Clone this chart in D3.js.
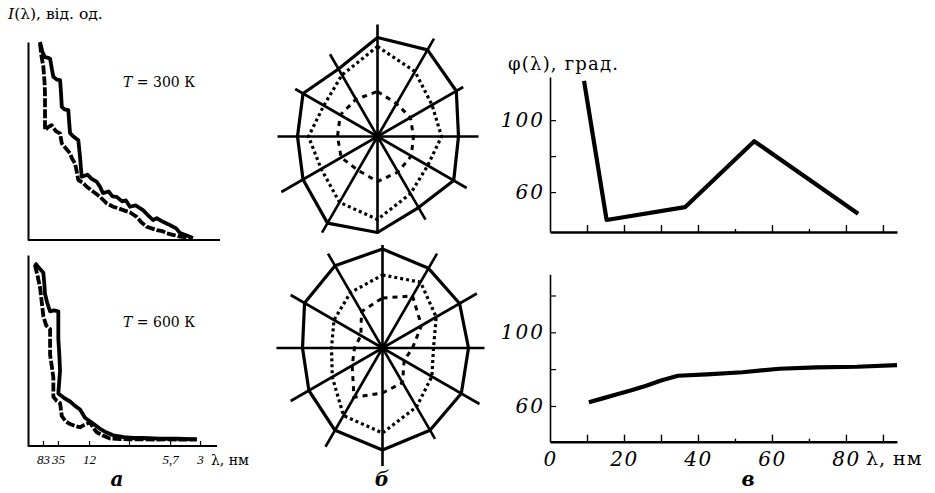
<!DOCTYPE html>
<html>
<head>
<meta charset="utf-8">
<script src="https://cdn.jsdelivr.net/npm/d3@7"></script>
<style>
  body { margin: 0; background: #fff; }
  svg { display: block; }
  text { font-family: "DejaVu Serif", "Liberation Serif", serif; fill: #000; }
</style>
</head>
<body>
<svg id="fig" width="935" height="493"></svg>
<script>
// ---------- panel а: spectral intensity I(λ) ----------
// horizontal position is a relative spectral coordinate (0..100), labelled in nm
const specTicks = [7.8, 15.6, 31.8, 52.6, 74, 89.6];
const specTickLabels = ["83", "35", "12", "", "5,7", "3"];

const spec300A = [[6.25,100],[7.5,95],[8.85,92.4],[10.5,92],[11.5,91.6],[12.5,86],[13.2,82.4],[15,81],[16.7,80.7],[17.2,74],[17.6,67.2],[19,66],[21,65.6],[21.4,60],[21.9,54],[24,52],[26.2,50.4],[27.1,42],[27.5,37],[28,31.9],[31,33],[33,31],[35.8,29.4],[37.5,26.9],[39,23.7],[42,24.5],[44,22],[46.2,21.8],[49,19.5],[51,20],[53.1,16.8],[56,17.5],[59.9,15.1],[62,13],[65.1,10.1],[67,11],[70.3,9.2],[73,8],[75.5,6.7],[77,6],[79.2,3.5],[82,2.5],[85.9,1]];
const spec300B = [[6.25,99.2],[7,93],[8,87.4],[8.6,80],[8.85,74],[8.85,65],[8.85,55.5],[10.5,57],[12.3,58],[14.5,55],[16.7,53.8],[17.6,48.8],[20,46],[21.9,43.7],[23,41],[24.5,38.7],[25.5,34],[26.2,30.3],[28.5,29],[30.6,26.9],[34,24.4],[36,23],[37.5,21.8],[41,18.5],[44.4,16.8],[47,16],[49.6,15.1],[53,14],[56.6,11.7],[59,9],[61.8,6.7],[64,6],[67,5],[70,4.5],[72.2,3.4],[76,2.5],[79.2,1.7],[85.9,0.9]];

const spec600A = [[3.6,95.8],[6,93],[8.0,90.7],[8.5,85],[8.85,79.7],[10,75],[11.5,70.5],[13.5,71],[15.8,70.5],[15.8,63],[15.8,56.1],[16.3,48],[16.7,39.3],[16.2,33],[15.8,27.5],[19,25],[21.9,23.3],[24.5,21],[27.1,19.1],[29.7,14.8],[31.5,13.5],[33.2,12.3],[37.5,9.0],[41,7],[44.4,5.6],[50,4.6],[54.8,4.2],[60,4.2],[68.8,3.9],[78,3.8],[87.9,3.5]];
const spec600B = [[3.6,94.9],[5,89],[6.25,83.1],[7.2,75],[8.0,67.9],[9.5,63],[11.5,61.2],[11.5,54],[11.5,47.7],[12.5,41],[13.2,35.9],[13.2,30],[13.2,25.8],[15,23.5],[16.7,22.4],[17.6,15.7],[19.5,13],[21.9,11.5],[24.5,10.5],[27.1,9.8],[30,11.5],[32.3,12.3],[34,9.5],[35.8,7.2],[39,5.5],[42.7,3.9],[48,3.6],[54.8,3.5],[66,3.4],[72.2,3.5],[80,3.3],[87.9,3.5]];

// ---------- panel б: polar diagrams (12 directions, 30° apart, clockwise from top) ----------
const polarAngles = [0, 30, 60, 90, 120, 150, 180, 210, 240, 270, 300, 330];

const spokes300 = [1.12, 1.13, 0.99, 1.01, 1.03, 0.96, 0.97, 1.11, 1.11, 1.00, 0.95, 0.95];
const solid300  = [0.99, 1.00, 0.91, 0.81, 0.88, 0.82, 0.96, 1.00, 0.86, 0.80, 0.86, 0.78];
const dotted300 = [0.90, 0.75, 0.63, 0.64, 0.58, 0.66, 0.83, 0.76, 0.65, 0.69, 0.62, 0.71];
const dashed300 = [0.45, 0.38, 0.38, 0.36, 0.39, 0.41, 0.45, 0.39, 0.42, 0.40, 0.43, 0.43];

const spokes600 = [1.03, 1.09, 1.09, 1.02, 1.12, 1.05, 1.18, 1.14, 1.06, 1.06, 1.06, 1.09];
const solid600  = [0.99, 0.92, 0.89, 0.86, 0.91, 0.95, 1.02, 0.95, 0.85, 0.80, 0.90, 0.95];
const dotted600 = [0.73, 0.76, 0.62, 0.51, 0.57, 0.68, 0.85, 0.78, 0.58, 0.51, 0.56, 0.64];
const dashed600 = [0.50, 0.60, 0.45, 0.30, 0.25, 0.40, 0.45, 0.57, 0.35, 0.28, 0.25, 0.42];

// ---------- panel в: phase φ(λ) ----------
const lam300 = [9.2, 15.3, 36.5, 55.2, 83.3];
const phi300 = [121.8, 44.5, 51.6, 88.3, 47.9];
const lam600 = [10.5, 14, 18.4, 22, 26, 30, 34.6, 42.4, 52, 62, 72, 83, 93.8];
const phi600 = [62, 64, 66.5, 68.5, 71, 73.8, 76.4, 77.2, 78.3, 80.2, 81, 81.3, 82.2];
const phiTicks = [60, 80, 100, 120];
const phiLabels = [60, 100];
const lamTicks = [10, 20, 30, 40, 50, 60, 70, 80, 90];
const lamMinorTicks = [50, 70];
const lamLabels = [0, 20, 40, 60, 80];

const svg = d3.select("#fig");

// ===== panel а =====
const xSpec = d3.scaleLinear().domain([0, 100]).range([28, 220]);
const ySpecTop = d3.scaleLinear().domain([0, 100]).range([240, 42]);
const ySpecBot = d3.scaleLinear().domain([0, 100]).range([446, 255]);

function spectrumPanel(yScale, curveA, curveB, xEnd, withTicks) {
  const g = svg.append("g");
  g.append("g").attr("transform", `translate(${xSpec(0)},0)`)
    .call(d3.axisLeft(yScale).tickValues([]).tickSizeOuter(0))
    .call(a => a.select(".domain").attr("stroke-width", 2));
  const ax = d3.axisBottom(xSpec).tickValues(withTicks ? specTicks : []).tickSizeOuter(0)
    .tickSizeInner(-5).tickPadding(9).tickFormat((d, i) => specTickLabels[i]);
  const gx = g.append("g").attr("transform", `translate(0,${yScale(0)})`).call(ax);
  gx.select(".domain").attr("d", `M28,0H${xEnd}`).attr("stroke-width", 2.2);
  gx.selectAll(".tick line").attr("stroke-width", 1.2);
  gx.selectAll(".tick text").style("font-size", "13px").style("font-style", "italic")
    .style("font-family", "Liberation Serif, serif");

  const line = d3.line().x(d => xSpec(d[0])).y(d => yScale(d[1])).curve(d3.curveLinear);
  g.append("path").attr("d", line(curveA)).attr("fill", "none").attr("stroke", "#000")
    .attr("stroke-width", 3.8).attr("stroke-linejoin", "round");
  g.append("path").attr("d", line(curveB)).attr("fill", "none").attr("stroke", "#000")
    .attr("stroke-width", 3.8).attr("stroke-dasharray", "9,2").attr("stroke-linejoin", "round");
  return g;
}
spectrumPanel(ySpecTop, spec300A, spec300B, 220, false);
spectrumPanel(ySpecBot, spec600A, spec600B, 217, true);

svg.append("text").attr("x", 8).attr("y", 19).style("font-size", "15.5px")
  .call(t => { t.append("tspan").style("font-style", "italic").text("I");
               t.append("tspan").text("(λ), від. од."); });
svg.append("text").attr("x", 123).attr("y", 87).style("font-size", "14px")
  .call(t => { t.append("tspan").style("font-style", "italic").text("T");
               t.append("tspan").text(" = 300 К"); });
svg.append("text").attr("x", 123).attr("y", 327).style("font-size", "14px")
  .call(t => { t.append("tspan").style("font-style", "italic").text("T");
               t.append("tspan").text(" = 600 К"); });
svg.append("text").attr("x", 211).attr("y", 465).style("font-size", "14px").text("λ, нм");

// ===== panel б =====
const rPolar = d3.scaleLinear().domain([0, 1]).range([0, 100]);
const toRad = d => d * Math.PI / 180;

function polarPanel(cx, cy, spokes, solid, dotted, dashed) {
  const g = svg.append("g").attr("transform", `translate(${cx},${cy})`);
  g.selectAll("line.spoke").data(polarAngles).join("line").attr("class", "spoke")
    .attr("x1", 0).attr("y1", 0)
    .attr("x2", (a, i) => rPolar(spokes[i]) * Math.sin(toRad(a)))
    .attr("y2", (a, i) => -rPolar(spokes[i]) * Math.cos(toRad(a)))
    .attr("stroke", "#000").attr("stroke-width", 2.6);
  const ring = vals => d3.lineRadial().curve(d3.curveLinearClosed)
    .angle((a, i) => toRad(a)).radius((a, i) => rPolar(vals[i]))(polarAngles);
  g.append("path").attr("d", ring(solid)).attr("fill", "none").attr("stroke", "#000")
    .attr("stroke-width", 3.2).attr("stroke-linejoin", "round");
  g.append("path").attr("d", ring(dotted)).attr("fill", "none").attr("stroke", "#000")
    .attr("stroke-width", 3.2).attr("stroke-dasharray", "3,3");
  g.append("path").attr("d", ring(dashed)).attr("fill", "none").attr("stroke", "#000")
    .attr("stroke-width", 3).attr("stroke-dasharray", "5,5");
}
polarPanel(377.5, 136.5, spokes300, solid300, dotted300, dashed300);
polarPanel(382.5, 348, spokes600, solid600, dotted600, dashed600);

// ===== panel в =====
const xPhi = d3.scaleLinear().domain([0, 93.8]).range([550, 897]);
const yPhiTop = d3.scaleLinear().domain([37.8, 124]).range([232, 77]);
const yPhiBot = d3.scaleLinear().domain([40.6, 131.5]).range([441.7, 274.3]);

function phasePanel(yScale, lam, phi, ticks, withLabels) {
  const g = svg.append("g");
  const gy = g.append("g").attr("transform", `translate(${xPhi(0)},0)`)
    .call(d3.axisLeft(yScale).tickValues(ticks).tickSizeInner(-6).tickSizeOuter(0).tickPadding(5)
      .tickFormat(d => phiLabels.includes(d) ? d : ""));
  gy.select(".domain").attr("stroke-width", 1.6);
  gy.selectAll(".tick line").attr("stroke-width", 1.2);
  gy.selectAll(".tick text").style("font-size", "20px").style("font-style", "italic")
    .style("letter-spacing", "2px").style("font-family", "DejaVu Serif, serif");

  const gx = g.append("g").attr("transform", `translate(0,${yScale.range()[0]})`)
    .call(d3.axisBottom(xPhi).tickValues(lamTicks).tickSizeInner(-7).tickSizeOuter(0).tickFormat(""));
  gx.select(".domain").attr("stroke-width", 2.4);
  gx.selectAll(".tick line").attr("stroke-width", 1.4)
    .filter(d => lamMinorTicks.includes(d)).attr("y2", -3);

  if (withLabels) {
    const gl = g.append("g").attr("transform", `translate(0,${yScale.range()[0]})`)
      .call(d3.axisBottom(xPhi).tickValues(lamLabels).tickSize(0).tickPadding(10));
    gl.select(".domain").remove();
    gl.selectAll(".tick text").style("font-size", "20px").style("font-style", "italic")
      .style("letter-spacing", "1.5px").style("font-family", "DejaVu Serif, serif");
  }

  const line = d3.line().x((d, i) => xPhi(lam[i])).y((d, i) => yScale(phi[i]));
  g.append("path").attr("d", line(lam)).attr("fill", "none").attr("stroke", "#000")
    .attr("stroke-width", 4.2).attr("stroke-linejoin", "round");
}
phasePanel(yPhiTop, lam300, phi300, [60, 80, 100], false);
phasePanel(yPhiBot, lam600, phi600, phiTicks, true);

svg.append("text").attr("x", 508).attr("y", 70).style("font-size", "18px")
  .style("letter-spacing", "1.2px").text("φ(λ), град.");
svg.append("text").attr("x", 866).attr("y", 465).style("font-size", "19px")
  .style("letter-spacing", "1px").text("λ, нм");

// panel letters
const letters = [["а", 117], ["б", 382], ["в", 748]];
svg.selectAll("text.letter").data(letters).join("text").attr("class", "letter")
  .attr("x", d => d[1]).attr("y", 486).attr("text-anchor", "middle")
  .style("font-size", "20px").style("font-style", "italic").style("font-weight", "bold")
  .text(d => d[0]);
</script>
</body>
</html>
